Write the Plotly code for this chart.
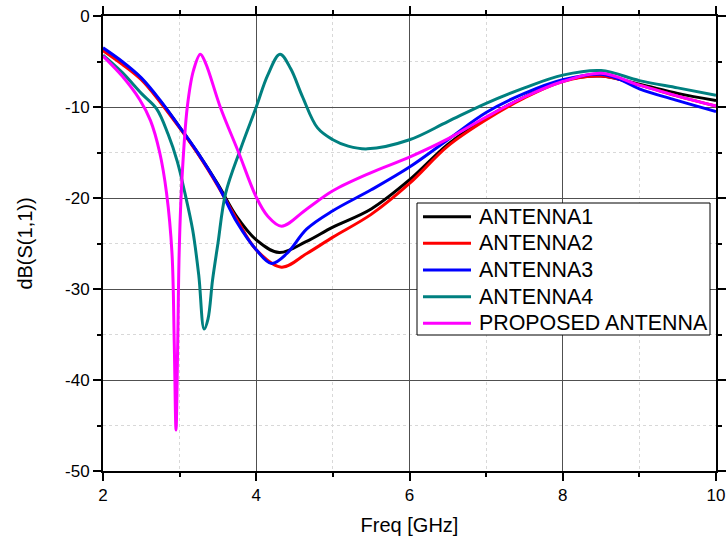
import plotly.graph_objects as go

# ---- data ----
f_ant1 = [2.0, 2.25, 2.5, 2.75, 3.0, 3.25, 3.5, 3.75, 4.0, 4.3, 4.65, 5.0, 5.5, 6.0, 6.5, 7.0, 7.5, 8.0, 8.5, 9.0, 9.5, 10.0]
s_ant1 = [-3.6, -5.1, -6.9, -9.4, -12.2, -15.2, -18.5, -22.1, -24.6, -26.0, -24.8, -23.2, -21.2, -18.0, -14.1, -11.2, -8.9, -7.1, -6.6, -7.5, -8.5, -9.3]

f_ant2 = [2.0, 2.25, 2.5, 2.75, 3.0, 3.25, 3.5, 3.75, 4.0, 4.33, 4.66, 5.0, 5.5, 6.0, 6.5, 7.0, 7.5, 8.0, 8.5, 9.0, 9.5, 10.0]
s_ant2 = [-3.8, -5.3, -7.0, -9.5, -12.3, -15.3, -18.7, -22.4, -25.7, -27.6, -26.1, -24.3, -21.8, -18.4, -14.3, -11.4, -9.0, -7.2, -6.6, -7.6, -8.8, -9.9]

f_ant3 = [2.0, 2.25, 2.5, 2.75, 3.0, 3.25, 3.5, 3.75, 4.0, 4.2, 4.4, 4.66, 5.0, 5.5, 6.0, 6.5, 7.0, 7.5, 8.0, 8.5, 8.75, 9.0, 9.5, 10.0]
s_ant3 = [-3.5, -5.0, -6.8, -9.3, -12.2, -15.2, -18.6, -22.7, -25.7, -27.2, -26.1, -23.4, -21.4, -19.1, -16.6, -13.6, -10.6, -8.5, -7.0, -6.4, -7.0, -8.0, -9.3, -10.5]

f_ant4 = [2.0, 2.25, 2.5, 2.7, 2.85, 2.97, 3.07, 3.17, 3.25, 3.32, 3.37, 3.43, 3.5, 3.6, 3.8, 4.0, 4.15, 4.31, 4.45, 4.6, 4.8, 5.0, 5.2, 5.45, 6.0, 6.5, 7.0, 7.5, 8.0, 8.5, 9.0, 9.5, 10.0]
s_ant4 = [-4.3, -6.2, -8.5, -10.2, -13.0, -16.0, -19.5, -23.5, -28.5, -34.4, -33.3, -29.0, -25.0, -19.5, -14.5, -10.0, -6.5, -4.2, -5.8, -8.8, -12.3, -13.6, -14.3, -14.6, -13.6, -11.6, -9.6, -7.9, -6.5, -6.0, -7.1, -7.9, -8.7]

f_prop = [2.0, 2.25, 2.48, 2.62, 2.74, 2.83, 2.9, 2.93, 2.953, 2.975, 2.995, 3.03, 3.1, 3.18, 3.27, 3.34, 3.53, 3.77, 4.0, 4.15, 4.33, 4.66, 5.0, 5.5, 6.0, 6.5, 7.0, 7.5, 8.0, 8.5, 9.0, 9.5, 10.0]
s_prop = [-4.4, -6.6, -9.2, -11.5, -15.0, -19.5, -26.0, -36.0, -45.5, -36.0, -25.7, -18.0, -10.0, -6.0, -4.2, -5.2, -10.0, -15.0, -19.9, -22.0, -23.1, -21.2, -19.2, -17.2, -15.5, -13.5, -11.1, -8.9, -7.2, -6.3, -7.6, -8.8, -9.9]

series_names = ["ANTENNA1", "ANTENNA2", "ANTENNA3", "ANTENNA4", "PROPOSED ANTENNA"]
series_colors = ["#000000", "#FF0000", "#0000FF", "#008080", "#FF00FF"]

x_tickvals = [2, 4, 6, 8, 10]
x_ticktext = ["2", "4", "6", "8", "10"]
y_tickvals = [0, -10, -20, -30, -40, -50]
y_ticktext = ["0", "-10", "-20", "-30", "-40", "-50"]

xs = [f_ant1, f_ant2, f_ant3, f_ant4, f_prop]
ys = [s_ant1, s_ant2, s_ant3, s_ant4, s_prop]

FONT = "Arial, Liberation Sans, sans-serif"
W, H = 728, 543
ML, MR, MT, MB = 103, 12, 16, 72
PW, PH = W - ML - MR, H - MT - MB

def px2paper(px, py):
    return (px - ML) / PW, (H - MB - py) / PH

fig = go.Figure()
for name, color, x, y in zip(series_names, series_colors, xs, ys):
    fig.add_trace(go.Scatter(
        x=x, y=y, mode="lines", name=name, showlegend=False,
        line=dict(color=color, width=3, shape="spline", smoothing=1.0),
    ))

axis_common = dict(
    showline=True, linecolor="black", linewidth=2, mirror="allticks",
    ticks="outside", ticklen=8, tickwidth=1.5, tickcolor="black",
    showgrid=True, gridcolor="#505050", gridwidth=1,
    zeroline=False, automargin=False,
    tickfont=dict(family=FONT, size=17, color="black"),
    minor=dict(ticks="outside", ticklen=4, tickwidth=1.5, tickcolor="black",
               showgrid=True, gridcolor="#d8d8d8", griddash="dot", gridwidth=1),
)

fig.update_xaxes(
    range=[2, 10], tickvals=x_tickvals, ticktext=x_ticktext,
    title=dict(text="Freq [GHz]", font=dict(family=FONT, size=20, color="black"), standoff=14),
    **axis_common,
)
fig.update_xaxes(minor_dtick=1)
fig.update_yaxes(
    range=[-50, 0], tickvals=y_tickvals, ticktext=y_ticktext,
    title=dict(text="dB(S(1,1))", font=dict(family=FONT, size=20, color="black"), standoff=27),
    **axis_common,
)
fig.update_yaxes(minor_dtick=5)

# ---- legend drawn as a boxed key (pixel layout from the reference) ----
box_x0, box_y0 = px2paper(417, 335)
box_x1, box_y1 = px2paper(710, 203)
fig.add_shape(type="rect", xref="paper", yref="paper",
              x0=box_x0, y0=box_y0, x1=box_x1, y1=box_y1,
              line=dict(color="black", width=1), fillcolor="white", layer="above")
row_y = [216.7, 243.3, 270.0, 296.7, 323.3]
for name, color, ry in zip(series_names, series_colors, row_y):
    lx0, ly = px2paper(423, ry)
    lx1, _ = px2paper(471, ry)
    fig.add_shape(type="line", xref="paper", yref="paper",
                  x0=lx0, x1=lx1, y0=ly, y1=ly,
                  line=dict(color=color, width=3), layer="above")
    tx, _ = px2paper(477, ry)
    fig.add_annotation(xref="paper", yref="paper", x=tx, y=ly,
                       xanchor="left", yanchor="middle", showarrow=False,
                       text=name, font=dict(family=FONT, size=21.4, color="black"))

fig.update_layout(
    width=W, height=H,
    margin=dict(l=ML, r=MR, t=MT, b=MB),
    plot_bgcolor="white", paper_bgcolor="white",
    showlegend=False,
)

fig.write_html("out.html")
